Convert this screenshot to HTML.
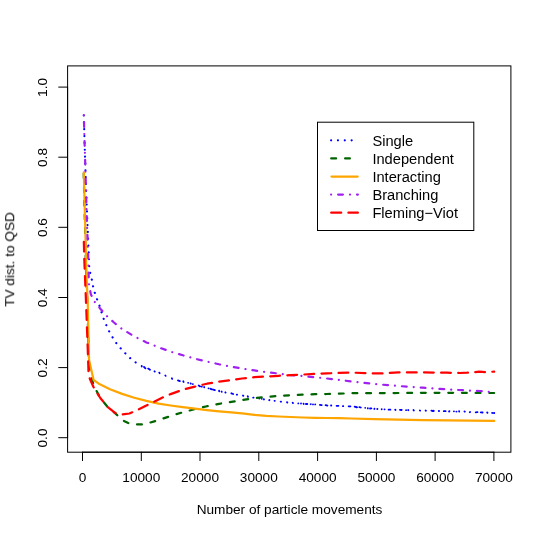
<!DOCTYPE html>
<html><head><meta charset="utf-8"><title>plot</title>
<style>
html,body{margin:0;padding:0;background:#fff;}
svg{display:block;will-change:transform;}
.tx{filter:grayscale(1);}
text{font-family:"Liberation Sans",sans-serif;font-size:13.65px;fill:#000;}
.lg text{font-size:14.67px;}
</style></head><body>
<svg width="545" height="536" viewBox="0 0 545 536">
<rect x="0" y="0" width="545" height="536" fill="#fff"/>

<g fill="none" stroke-width="2.20" stroke-linecap="round" stroke-linejoin="round">
<path stroke="#0000FF" stroke-width="1.8" d="M141.7 365.9L141.8 366.5M144.0 366.9L145.4 368.4M148.2 368.6L150.0 369.8M154.5 371.3L154.8 371.6M159.3 372.6L159.6 373.2M165.3 375.4L165.6 375.9M171.9 378.3L172.2 378.9M178.0 380.4L179.8 381.1M183.3 381.3L183.6 382.0M188.1 382.8L188.2 382.8M190.7 383.4L190.8 383.7M192.8 384.1L192.9 384.1M198.7 385.4L200.1 386.4M201.8 386.6L201.8 386.7M204.1 387.0L204.2 387.3M208.5 388.3L208.6 388.3M210.6 388.8L212.0 389.3M213.4 389.6L214.8 390.1M219.1 390.6L219.2 391.3M221.6 391.5L221.7 391.8M225.3 392.3L225.6 392.6M231.4 393.3L233.2 394.0M236.8 394.7L237.1 394.7M243.0 395.5L243.3 395.9M247.7 396.2L248.0 396.8M253.2 397.6L253.5 397.7M259.3 398.0L259.3 398.6M261.7 398.8L261.8 398.8M263.9 399.2L264.0 399.5M269.2 400.2L269.5 400.0M274.5 400.8L274.8 400.8M280.7 401.6L281.0 401.7M287.0 402.2L287.3 402.5M292.7 402.7L293.0 403.1M298.3 403.4L298.3 403.3M301.0 403.5L301.0 403.6M303.6 403.7L303.7 404.0M305.9 404.0L307.3 404.0M310.7 404.2L310.8 404.1M313.0 404.3L313.0 404.4M315.2 404.3L315.2 404.4M319.9 404.9L321.7 405.2M325.6 405.1L327.4 405.6M331.0 405.5L331.3 405.5M336.6 405.8L338.4 405.8M342.9 406.1L343.2 406.2M348.6 406.3L350.4 406.4M354.7 406.6L356.1 407.2M356.9 407.1L357.0 407.3M359.4 407.1L360.8 407.5M365.2 407.8L365.2 407.8M367.8 408.1L367.8 408.4M370.0 408.5L371.4 408.4M374.3 409.0L374.4 408.7M377.3 409.0L377.4 408.9M381.7 409.3L381.7 409.1M384.5 409.3L384.6 409.3M388.6 409.7L390.4 409.7M395.2 409.6L395.5 410.0M399.9 409.8L401.7 410.0M406.1 410.1L406.1 410.2M408.2 410.0L408.3 410.2M413.5 410.0L413.8 410.5M419.8 410.5L420.1 410.6M425.6 410.5L425.9 410.7M431.4 410.7L432.8 411.0M433.7 410.6L433.7 411.0M438.8 411.0L439.1 411.0M443.8 411.2L445.6 411.2M449.1 411.5L449.4 411.2M453.9 411.3L454.0 411.3M456.4 411.6L456.5 411.6M459.1 411.2L459.2 411.6M464.5 411.4L464.8 411.7M469.8 412.2L470.1 412.0M475.7 412.3L477.5 412.2M480.8 412.4L482.6 412.5M487.2 412.5L487.5 412.8M492.1 412.9L492.4 413.0M493.9 413.0L494.3 413.0"/>
<polyline stroke="#0000FF" stroke-dasharray="0.01,6.84" stroke-dashoffset="5.75" points="83.8,114.4 84.5,140.0 85.3,165.0 86.1,190.0 87.4,222.0 88.4,245.0 89.1,265.6 90.2,272.8 91.7,279.0 92.9,285.7 94.7,292.5 96.9,298.9 99.4,305.4 101.4,311.8 103.6,318.5 106.1,324.7 109.2,331.4 112.4,337.0 115.7,342.4 120.1,347.7 124.6,352.6 129.4,357.5 134.3,361.4 138.0,363.9"/>
<polyline stroke="#006400" stroke-dasharray="4.85,8.83" stroke-dashoffset="12.58" points="83.7,172.4 84.3,200.0 85.0,225.0 86.0,270.0 87.5,305.0 88.3,340.0 88.9,360.0 90.2,371.5 91.6,378.3 94.3,386.8 100.3,398.0 107.8,407.2 115.4,413.4 122.1,420.1 128.2,423.0 134.3,424.4 141.5,424.4 148.8,423.0 156.1,420.8 163.4,418.4 173.1,415.2 182.8,412.3 194.9,409.1 207.0,406.2 219.1,403.8 231.3,401.9 242.1,400.0 254.3,398.1 266.4,396.9 278.5,395.9 290.6,395.2 302.8,394.7 314.9,394.2 327.0,394.0 339.1,393.7 351.3,393.2 374.3,393.2 398.5,393.0 422.8,392.8 447.0,392.8 494.2,393.0"/>
<polyline stroke="#FFA500" points="83.8,172.4 84.5,200.0 85.2,225.0 86.3,270.0 87.8,305.0 88.5,340.0 89.1,360.2 93.6,379.9 99.4,384.1 110.0,389.3 122.1,393.9 134.3,397.7 146.4,400.9 158.5,403.6 170.6,405.5 182.8,407.2 194.9,408.7 207.0,410.1 219.1,411.3 231.3,412.3 242.1,413.4 254.3,414.8 266.4,415.8 278.5,416.5 290.6,417.0 302.8,417.5 314.9,417.8 327.0,418.0 339.1,418.2 351.3,418.5 374.3,419.2 398.5,419.7 422.8,420.2 447.0,420.4 494.2,420.9"/>
<polyline stroke="#A020F0" stroke-dasharray="0.01,7.00,4.80,6.99" stroke-dashoffset="18.00" points="83.8,114.4 84.5,140.0 85.3,165.0 86.0,190.0 86.9,220.0 87.6,240.0 88.2,255.0 88.7,275.7 89.0,284.7 90.9,294.4 94.7,301.9 100.3,308.7 107.0,316.3 114.0,322.5 122.1,329.1 134.3,336.4 146.4,342.4 158.5,347.3 170.6,351.7 182.8,355.3 194.9,358.7 207.0,361.6 219.1,364.3 231.3,366.7 242.1,368.5 254.3,370.4 266.4,372.1 278.5,373.6 290.6,375.1 302.8,376.0 314.9,377.2 327.0,378.5 339.1,379.9 351.3,381.4 374.3,384.0 398.5,386.0 422.8,387.7 447.0,389.4 470.3,390.6 479.3,391.0 494.2,392.2"/>
<polyline stroke="#FF0000" stroke-dasharray="9.80,7.30" stroke-dashoffset="15.80" points="83.8,240.5 84.3,260.0 86.1,304.0 87.6,345.0 88.5,372.0 89.8,378.7 93.5,387.0 100.3,398.0 107.8,407.2 115.4,413.1 122.1,414.5 129.4,413.5 136.7,410.4 146.4,405.5 153.7,401.9 162.1,397.7 170.6,394.1 182.8,389.7 194.9,386.6 207.0,383.7 219.1,381.7 231.3,380.0 242.1,378.5 254.3,377.2 266.4,376.5 278.5,375.8 290.6,375.1 302.8,374.6 314.9,373.8 327.0,373.4 339.1,372.9 351.3,372.6 374.3,373.4 381.5,373.4 398.5,372.4 422.8,372.4 447.0,372.7 459.9,373.0 467.3,372.7 474.8,372.2 479.3,371.6 485.2,372.2 494.2,371.6"/>
</g>
<g fill="none" stroke="#000" stroke-width="1" stroke-linecap="round">
<rect x="67.6" y="65.9" width="443.3" height="386.3"/>
<path d="M82.5 452.2H493.9M82.5 452.2v8.4M141.3 452.2v8.4M200.0 452.2v8.4M258.8 452.2v8.4M317.6 452.2v8.4M376.4 452.2v8.4M435.1 452.2v8.4M493.9 452.2v8.4"/>
<path d="M67.6 437.7V87.1M67.6 437.7h-8.9M67.6 367.6h-8.9M67.6 297.5h-8.9M67.6 227.3h-8.9M67.6 157.2h-8.9M67.6 87.1h-8.9"/>
</g>
<g class="tx">
<text x="82.5" y="482" text-anchor="middle">0</text>
<text x="141.3" y="482" text-anchor="middle">10000</text>
<text x="200.0" y="482" text-anchor="middle">20000</text>
<text x="258.8" y="482" text-anchor="middle">30000</text>
<text x="317.6" y="482" text-anchor="middle">40000</text>
<text x="376.4" y="482" text-anchor="middle">50000</text>
<text x="435.1" y="482" text-anchor="middle">60000</text>
<text x="493.9" y="482" text-anchor="middle">70000</text>
<text transform="translate(46.6 438.0) rotate(-90)" text-anchor="middle">0.0</text>
<text transform="translate(46.6 367.9) rotate(-90)" text-anchor="middle">0.2</text>
<text transform="translate(46.6 297.8) rotate(-90)" text-anchor="middle">0.4</text>
<text transform="translate(46.6 227.6) rotate(-90)" text-anchor="middle">0.6</text>
<text transform="translate(46.6 157.5) rotate(-90)" text-anchor="middle">0.8</text>
<text transform="translate(46.6 87.4) rotate(-90)" text-anchor="middle">1.0</text>
<text x="289.5" y="514" text-anchor="middle">Number of particle movements</text>
<text transform="translate(14.2 259.5) rotate(-90)" text-anchor="middle">TV dist. to QSD</text>
</g>
<rect x="317.5" y="122.2" width="156.3" height="108.3" fill="#fff" stroke="#000" stroke-width="1"/>
<g fill="none" stroke-width="2.20" stroke-linecap="round">
<path stroke="#0000FF" d="M331.10 140.3H331.11M337.95 140.3H337.96M344.80 140.3H344.81M351.65 140.3H351.66"/>
<path stroke="#006400" d="M331.20 158.4H336.10M345.10 158.4H349.90"/>
<path stroke="#FFA500" d="M331.50 176.6H357.70"/>
<path stroke="#A020F0" d="M331.10 194.6H331.11M338.10 194.6H342.90M350.00 194.6H350.01M357.00 194.6H357.90"/>
<path stroke="#FF0000" d="M331.20 212.7H341.20M348.40 212.7H357.90"/>
</g>
<g class="lg tx">
<text x="372.4" y="145.5">Single</text>
<text x="372.4" y="163.6">Independent</text>
<text x="372.4" y="181.8">Interacting</text>
<text x="372.4" y="199.8">Branching</text>
<text x="372.4" y="217.9">Fleming−Viot</text>
</g>
</svg></body></html>
